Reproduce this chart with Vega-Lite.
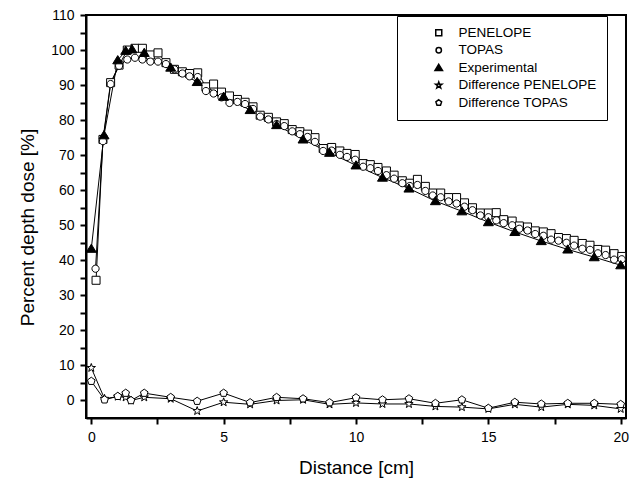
{
  "$schema": "https://vega.github.io/schema/vega-lite/v6.json",
  "width": 540,
  "height": 403,
  "autosize": {"type": "none"},
  "padding": {"left": 86, "top": 15, "right": 17, "bottom": 67},
  "background": "white",
  "config": {
    "view": {"stroke": "black", "strokeWidth": 2},
    "font": "Liberation Sans",
    "axis": {
      "grid": false,
      "domainColor": "black",
      "domainWidth": 2,
      "tickColor": "black",
      "tickWidth": 2,
      "labelFont": "Liberation Sans",
      "labelFontSize": 14,
      "labelColor": "black",
      "titleFont": "Liberation Sans",
      "titleFontSize": 19,
      "titleFontWeight": "normal",
      "titleColor": "black"
    },
    "legend": {
      "labelFont": "Liberation Sans",
      "labelFontSize": 13.5,
      "labelColor": "black"
    }
  },
  "data": {
    "values": [
      {"s": "PENELOPE", "x": 0.18, "y": 34.3},
      {"s": "PENELOPE", "x": 0.44, "y": 74.5},
      {"s": "PENELOPE", "x": 0.73, "y": 90.7},
      {"s": "PENELOPE", "x": 1.05, "y": 95.7},
      {"s": "PENELOPE", "x": 1.36, "y": 100},
      {"s": "PENELOPE", "x": 1.65, "y": 100.5},
      {"s": "PENELOPE", "x": 1.93, "y": 100.5},
      {"s": "PENELOPE", "x": 2.23, "y": 98.6},
      {"s": "PENELOPE", "x": 2.52, "y": 99.2},
      {"s": "PENELOPE", "x": 2.82, "y": 96.4},
      {"s": "PENELOPE", "x": 3.14, "y": 94.5},
      {"s": "PENELOPE", "x": 3.44, "y": 93.8},
      {"s": "PENELOPE", "x": 3.71, "y": 93.3},
      {"s": "PENELOPE", "x": 4.02, "y": 93.5},
      {"s": "PENELOPE", "x": 4.33, "y": 89.5},
      {"s": "PENELOPE", "x": 4.62, "y": 90.3},
      {"s": "PENELOPE", "x": 4.92, "y": 88},
      {"s": "PENELOPE", "x": 5.22, "y": 86.9},
      {"s": "PENELOPE", "x": 5.52, "y": 85.9},
      {"s": "PENELOPE", "x": 5.81, "y": 85.1},
      {"s": "PENELOPE", "x": 6.11, "y": 83.8},
      {"s": "PENELOPE", "x": 6.38, "y": 81.4},
      {"s": "PENELOPE", "x": 6.69, "y": 80.8},
      {"s": "PENELOPE", "x": 7.0, "y": 79.5},
      {"s": "PENELOPE", "x": 7.29, "y": 79},
      {"s": "PENELOPE", "x": 7.59, "y": 77.3},
      {"s": "PENELOPE", "x": 7.88, "y": 76.7},
      {"s": "PENELOPE", "x": 8.17, "y": 76},
      {"s": "PENELOPE", "x": 8.45, "y": 75},
      {"s": "PENELOPE", "x": 8.76, "y": 71.9},
      {"s": "PENELOPE", "x": 9.08, "y": 72.2},
      {"s": "PENELOPE", "x": 9.39, "y": 71.2},
      {"s": "PENELOPE", "x": 9.66, "y": 70.5},
      {"s": "PENELOPE", "x": 9.97, "y": 70.2},
      {"s": "PENELOPE", "x": 10.27, "y": 67.6},
      {"s": "PENELOPE", "x": 10.54, "y": 67.3},
      {"s": "PENELOPE", "x": 10.83, "y": 66.5},
      {"s": "PENELOPE", "x": 11.15, "y": 65.5},
      {"s": "PENELOPE", "x": 11.44, "y": 64.3},
      {"s": "PENELOPE", "x": 11.75, "y": 62.7},
      {"s": "PENELOPE", "x": 12.03, "y": 62},
      {"s": "PENELOPE", "x": 12.32, "y": 63.1},
      {"s": "PENELOPE", "x": 12.62, "y": 61.1},
      {"s": "PENELOPE", "x": 12.9, "y": 59.2},
      {"s": "PENELOPE", "x": 13.2, "y": 59.2},
      {"s": "PENELOPE", "x": 13.5, "y": 57.9},
      {"s": "PENELOPE", "x": 13.8, "y": 57.9},
      {"s": "PENELOPE", "x": 14.1, "y": 56.4},
      {"s": "PENELOPE", "x": 14.4, "y": 55},
      {"s": "PENELOPE", "x": 14.7, "y": 53.5},
      {"s": "PENELOPE", "x": 15.0, "y": 53.5},
      {"s": "PENELOPE", "x": 15.3, "y": 53.6},
      {"s": "PENELOPE", "x": 15.58, "y": 51.6},
      {"s": "PENELOPE", "x": 15.9, "y": 51.2},
      {"s": "PENELOPE", "x": 16.17, "y": 49.8},
      {"s": "PENELOPE", "x": 16.48, "y": 49.5},
      {"s": "PENELOPE", "x": 16.77, "y": 48.4},
      {"s": "PENELOPE", "x": 17.08, "y": 48.1},
      {"s": "PENELOPE", "x": 17.37, "y": 47.6},
      {"s": "PENELOPE", "x": 17.65, "y": 46.5},
      {"s": "PENELOPE", "x": 17.95, "y": 46.2},
      {"s": "PENELOPE", "x": 18.24, "y": 45.7},
      {"s": "PENELOPE", "x": 18.55, "y": 44.8},
      {"s": "PENELOPE", "x": 18.84, "y": 44.3},
      {"s": "PENELOPE", "x": 19.14, "y": 43.1},
      {"s": "PENELOPE", "x": 19.43, "y": 42.9},
      {"s": "PENELOPE", "x": 19.75, "y": 41.9},
      {"s": "PENELOPE", "x": 20.04, "y": 41.1},

      {"s": "TOPAS", "x": 0.16, "y": 37.6},
      {"s": "TOPAS", "x": 0.44, "y": 74},
      {"s": "TOPAS", "x": 0.73, "y": 90.3},
      {"s": "TOPAS", "x": 1.05, "y": 95.5},
      {"s": "TOPAS", "x": 1.36, "y": 97.3},
      {"s": "TOPAS", "x": 1.65, "y": 97.8},
      {"s": "TOPAS", "x": 1.93, "y": 97.3},
      {"s": "TOPAS", "x": 2.23, "y": 96.7},
      {"s": "TOPAS", "x": 2.52, "y": 96.7},
      {"s": "TOPAS", "x": 2.82, "y": 96.0},
      {"s": "TOPAS", "x": 3.14, "y": 94.5},
      {"s": "TOPAS", "x": 3.44, "y": 93.3},
      {"s": "TOPAS", "x": 3.71, "y": 92.5},
      {"s": "TOPAS", "x": 4.02, "y": 92.3},
      {"s": "TOPAS", "x": 4.33, "y": 88.3},
      {"s": "TOPAS", "x": 4.62, "y": 87.6},
      {"s": "TOPAS", "x": 4.92, "y": 86.5},
      {"s": "TOPAS", "x": 5.22, "y": 84.9},
      {"s": "TOPAS", "x": 5.52, "y": 85.2},
      {"s": "TOPAS", "x": 5.81, "y": 84.6},
      {"s": "TOPAS", "x": 6.11, "y": 83.2},
      {"s": "TOPAS", "x": 6.38, "y": 81},
      {"s": "TOPAS", "x": 6.69, "y": 80.2},
      {"s": "TOPAS", "x": 7.0, "y": 78.9},
      {"s": "TOPAS", "x": 7.29, "y": 78.3},
      {"s": "TOPAS", "x": 7.59, "y": 76.8},
      {"s": "TOPAS", "x": 7.88, "y": 76},
      {"s": "TOPAS", "x": 8.17, "y": 75.2},
      {"s": "TOPAS", "x": 8.45, "y": 73.8},
      {"s": "TOPAS", "x": 8.76, "y": 71.2},
      {"s": "TOPAS", "x": 9.08, "y": 71.3},
      {"s": "TOPAS", "x": 9.39, "y": 70.1},
      {"s": "TOPAS", "x": 9.66, "y": 69.5},
      {"s": "TOPAS", "x": 9.97, "y": 68.7},
      {"s": "TOPAS", "x": 10.27, "y": 66.7},
      {"s": "TOPAS", "x": 10.54, "y": 66.3},
      {"s": "TOPAS", "x": 10.83, "y": 65.5},
      {"s": "TOPAS", "x": 11.15, "y": 64.3},
      {"s": "TOPAS", "x": 11.44, "y": 63.3},
      {"s": "TOPAS", "x": 11.75, "y": 62.0},
      {"s": "TOPAS", "x": 12.03, "y": 61.2},
      {"s": "TOPAS", "x": 12.32, "y": 61.5},
      {"s": "TOPAS", "x": 12.62, "y": 59.8},
      {"s": "TOPAS", "x": 12.9, "y": 58.5},
      {"s": "TOPAS", "x": 13.2, "y": 58.0},
      {"s": "TOPAS", "x": 13.5, "y": 56.8},
      {"s": "TOPAS", "x": 13.8, "y": 56.2},
      {"s": "TOPAS", "x": 14.1, "y": 55.3},
      {"s": "TOPAS", "x": 14.4, "y": 54.3},
      {"s": "TOPAS", "x": 14.7, "y": 52.8},
      {"s": "TOPAS", "x": 15.0, "y": 52.3},
      {"s": "TOPAS", "x": 15.3, "y": 51.4},
      {"s": "TOPAS", "x": 15.58, "y": 50.6},
      {"s": "TOPAS", "x": 15.9, "y": 50.0},
      {"s": "TOPAS", "x": 16.17, "y": 49.0},
      {"s": "TOPAS", "x": 16.48, "y": 48.5},
      {"s": "TOPAS", "x": 16.77, "y": 47.5},
      {"s": "TOPAS", "x": 17.08, "y": 47.0},
      {"s": "TOPAS", "x": 17.37, "y": 45.9},
      {"s": "TOPAS", "x": 17.65, "y": 45.6},
      {"s": "TOPAS", "x": 17.95, "y": 45.0},
      {"s": "TOPAS", "x": 18.24, "y": 44.2},
      {"s": "TOPAS", "x": 18.55, "y": 43.3},
      {"s": "TOPAS", "x": 18.84, "y": 43.0},
      {"s": "TOPAS", "x": 19.14, "y": 42.0},
      {"s": "TOPAS", "x": 19.43, "y": 41.5},
      {"s": "TOPAS", "x": 19.75, "y": 40.2},
      {"s": "TOPAS", "x": 20.04, "y": 40.3},

      {"s": "Experimental", "x": 0, "y": 43.3},
      {"s": "Experimental", "x": 0.48, "y": 75.7},
      {"s": "Experimental", "x": 1.0, "y": 97.1},
      {"s": "Experimental", "x": 1.3, "y": 99.8},
      {"s": "Experimental", "x": 1.54, "y": 100.2},
      {"s": "Experimental", "x": 2.0, "y": 99.2},
      {"s": "Experimental", "x": 3.0, "y": 95},
      {"s": "Experimental", "x": 4.0, "y": 90.9},
      {"s": "Experimental", "x": 5.0, "y": 86.7},
      {"s": "Experimental", "x": 6.0, "y": 82.9},
      {"s": "Experimental", "x": 7.0, "y": 78.6},
      {"s": "Experimental", "x": 8.0, "y": 74.5},
      {"s": "Experimental", "x": 9.0, "y": 70.7},
      {"s": "Experimental", "x": 10.0, "y": 67.1},
      {"s": "Experimental", "x": 11.0, "y": 63.6},
      {"s": "Experimental", "x": 12.0, "y": 60.5},
      {"s": "Experimental", "x": 13.0, "y": 56.9},
      {"s": "Experimental", "x": 14.0, "y": 54},
      {"s": "Experimental", "x": 15.0, "y": 50.9},
      {"s": "Experimental", "x": 16.0, "y": 48.1},
      {"s": "Experimental", "x": 17.0, "y": 45.5},
      {"s": "Experimental", "x": 18.0, "y": 43.1},
      {"s": "Experimental", "x": 19.0, "y": 40.9},
      {"s": "Experimental", "x": 20.0, "y": 38.6},

      {"s": "Difference PENELOPE", "x": 0, "y": 9.3},
      {"s": "Difference PENELOPE", "x": 0.5, "y": 0.5},
      {"s": "Difference PENELOPE", "x": 1.0, "y": 1.1},
      {"s": "Difference PENELOPE", "x": 1.3, "y": 0.9},
      {"s": "Difference PENELOPE", "x": 1.5, "y": 0.0},
      {"s": "Difference PENELOPE", "x": 2.0, "y": 0.9},
      {"s": "Difference PENELOPE", "x": 3.0, "y": 0.5},
      {"s": "Difference PENELOPE", "x": 4.0, "y": -3.0},
      {"s": "Difference PENELOPE", "x": 5.0, "y": -0.5},
      {"s": "Difference PENELOPE", "x": 6.0, "y": -1.1},
      {"s": "Difference PENELOPE", "x": 7.0, "y": 0.0},
      {"s": "Difference PENELOPE", "x": 8.0, "y": 0.2},
      {"s": "Difference PENELOPE", "x": 9.0, "y": -1.1},
      {"s": "Difference PENELOPE", "x": 10.0, "y": -0.7},
      {"s": "Difference PENELOPE", "x": 11.0, "y": -1.0},
      {"s": "Difference PENELOPE", "x": 12.0, "y": -1.0},
      {"s": "Difference PENELOPE", "x": 13.0, "y": -1.7},
      {"s": "Difference PENELOPE", "x": 14.0, "y": -1.9},
      {"s": "Difference PENELOPE", "x": 15.0, "y": -2.4},
      {"s": "Difference PENELOPE", "x": 16.0, "y": -1.1},
      {"s": "Difference PENELOPE", "x": 17.0, "y": -1.9},
      {"s": "Difference PENELOPE", "x": 18.0, "y": -1.1},
      {"s": "Difference PENELOPE", "x": 19.0, "y": -1.4},
      {"s": "Difference PENELOPE", "x": 20.0, "y": -2.4},

      {"s": "Difference TOPAS", "x": 0, "y": 5.5},
      {"s": "Difference TOPAS", "x": 0.5, "y": 0.2},
      {"s": "Difference TOPAS", "x": 1.0, "y": 1.2},
      {"s": "Difference TOPAS", "x": 1.3, "y": 2.1},
      {"s": "Difference TOPAS", "x": 1.5, "y": 0.0},
      {"s": "Difference TOPAS", "x": 2.0, "y": 2.1},
      {"s": "Difference TOPAS", "x": 3.0, "y": 0.9},
      {"s": "Difference TOPAS", "x": 4.0, "y": -0.2},
      {"s": "Difference TOPAS", "x": 5.0, "y": 2.1},
      {"s": "Difference TOPAS", "x": 6.0, "y": -0.6},
      {"s": "Difference TOPAS", "x": 7.0, "y": 0.9},
      {"s": "Difference TOPAS", "x": 8.0, "y": 0.5},
      {"s": "Difference TOPAS", "x": 9.0, "y": -0.6},
      {"s": "Difference TOPAS", "x": 10.0, "y": 0.8},
      {"s": "Difference TOPAS", "x": 11.0, "y": 0.2},
      {"s": "Difference TOPAS", "x": 12.0, "y": 0.5},
      {"s": "Difference TOPAS", "x": 13.0, "y": -0.8},
      {"s": "Difference TOPAS", "x": 14.0, "y": 0.2},
      {"s": "Difference TOPAS", "x": 15.0, "y": -2.2},
      {"s": "Difference TOPAS", "x": 16.0, "y": -0.5},
      {"s": "Difference TOPAS", "x": 17.0, "y": -1.0},
      {"s": "Difference TOPAS", "x": 18.0, "y": -0.8},
      {"s": "Difference TOPAS", "x": 19.0, "y": -0.8},
      {"s": "Difference TOPAS", "x": 20.0, "y": -1.1}
    ]
  },
  "encoding": {
    "x": {
      "field": "x",
      "type": "quantitative",
      "scale": {"domain": [-0.2, 20.2], "nice": false, "zero": false},
      "axis": {
        "title": "Distance [cm]",
        "values": [0, 2.5, 5, 7.5, 10, 12.5, 15, 17.5, 20],
        "labelExpr": "datum.value % 5 === 0 ? datum.label : ''",
        "tickSize": 6,
        "labelPadding": 6,
        "titleX": 270,
        "titleY": 55,
        "titleBaseline": "alphabetic",
        "titleAnchor": "middle"
      }
    },
    "y": {
      "field": "y",
      "type": "quantitative",
      "scale": {"domain": [-5, 110], "nice": false, "zero": false},
      "axis": {
        "title": "Percent depth dose [%]",
        "values": [0, 5, 10, 15, 20, 25, 30, 35, 40, 45, 50, 55, 60, 65, 70, 75, 80, 85, 90, 95, 100, 105, 110],
        "labelExpr": "datum.value % 10 === 0 ? datum.label : ''",
        "tickSize": 6,
        "labelPadding": 6,
        "titleX": -53,
        "titleY": 212,
        "titleAngle": -90,
        "titleBaseline": "alphabetic",
        "titleAlign": "center"
      }
    }
  },
  "layer": [
    {
      "mark": {"type": "line", "color": "black", "strokeWidth": 1},
      "encoding": {"detail": {"field": "s", "type": "nominal"}}
    },
    {
      "mark": {"type": "point", "filled": false, "stroke": "black", "strokeWidth": 1, "size": 64, "opacity": 1},
      "encoding": {
        "shape": {
          "field": "s",
          "type": "nominal",
          "scale": {
            "domain": ["PENELOPE", "TOPAS", "Experimental", "Difference PENELOPE", "Difference TOPAS"],
            "range": [
              "M-1,-1H1V1H-1Z",
              "M-0.9,0A0.9,0.9,0,1,1,0.9,0A0.9,0.9,0,1,1,-0.9,0Z",
              "M0,-1.15L1.25,0.9L-1.25,0.9Z",
              "M0,-1.1L0.259,-0.356L1.046,-0.34L0.418,0.136L0.647,0.89L0,0.44L-0.647,0.89L-0.418,0.136L-1.046,-0.34L-0.259,-0.356Z",
              "M0,-1L0.951,-0.309L0.588,0.809L-0.588,0.809L-0.951,-0.309Z"
            ]
          },
          "legend": {
            "title": null,
            "orient": "none",
            "legendX": 311,
            "legendY": 1,
            "padding": 10,
            "strokeColor": "black",
            "fillColor": "white",
            "symbolSize": 36,
            "symbolOffset": 25,
            "labelOffset": 13,
            "rowPadding": 2.5,
            "labelLimit": 300,
            "encode": {
              "legend": {"strokeWidth": {"value": 1.5}},
              "symbols": {
                "stroke": {"value": "black"},
                "strokeWidth": {"value": 1},
                "strokeOpacity": {"value": 1}
              }
            }
          }
        },
        "fill": {
          "field": "s",
          "type": "nominal",
          "scale": {
            "domain": ["PENELOPE", "TOPAS", "Experimental", "Difference PENELOPE", "Difference TOPAS"],
            "range": ["white", "white", "black", "white", "white"]
          },
          "legend": {
            "title": null,
            "orient": "none",
            "legendX": 311,
            "legendY": 1,
            "padding": 10,
            "strokeColor": "black",
            "fillColor": "white",
            "symbolSize": 36,
            "symbolOffset": 25,
            "labelOffset": 13,
            "rowPadding": 2.5,
            "labelLimit": 300,
            "encode": {
              "legend": {"strokeWidth": {"value": 1.5}},
              "symbols": {
                "stroke": {"value": "black"},
                "strokeWidth": {"value": 1},
                "strokeOpacity": {"value": 1}
              }
            }
          }
        }
      }
    }
  ]
}
